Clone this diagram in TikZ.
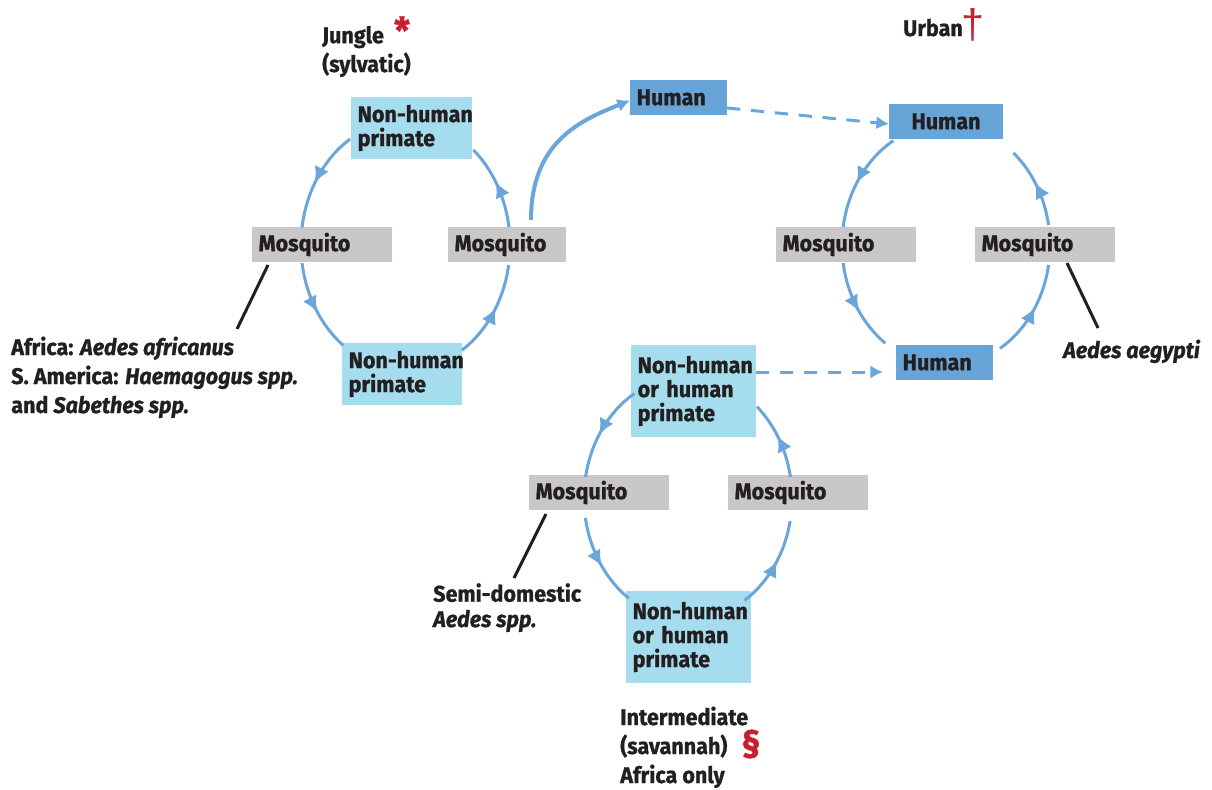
\documentclass[tikz,border=0pt]{standalone}
\usepackage{fontspec}
\setmainfont{Fira Sans}[FakeStretch=0.95,
  BoldFeatures={FakeBold=1.0}, BoldItalicFeatures={FakeBold=1.0}]
\newfontfamily\symfont{Liberation Sans}
\usetikzlibrary{arrows.meta,decorations.markings,calc}

\definecolor{ink}{HTML}{231F20}
\definecolor{primatefill}{HTML}{A6DDEE}
\definecolor{humanfill}{HTML}{67A5D8}
\definecolor{mosqfill}{HTML}{C9C7C8}
\definecolor{linkblue}{HTML}{6AA6DA}
\definecolor{mark}{HTML}{C9202F}

\tikzset{
  flowtip/.tip={Latex[length=9.5pt,width=10pt]},
  midtip/.tip={Latex[length=12pt,width=11.5pt]},
  txt/.style={font=\bfseries\fontsize{17}{18}\selectfont, text=ink},
  box/.style={txt, anchor=north west, inner xsep=5pt, inner ysep=0pt,
    outer sep=0pt, align=left},
  mosq/.style={box, fill=mosqfill, text width=#1, minimum height=26.25pt},
  mosq/.default=95pt,
  prim/.style 2 args={box, fill=primatefill, text width=#1, minimum height=#2},
  human/.style={box, fill=humanfill, text width=#1, minimum height=26.25pt},
  label/.style={txt, anchor=base west, align=left, inner sep=0pt},
  cyc/.style={draw=linkblue, color=linkblue, line width=2.25pt,
    postaction={decorate},
    decoration={markings, mark=at position 0.55 with {\arrow{midtip}}}},
  link/.style={draw=linkblue, color=linkblue, line width=2.25pt, -{flowtip}},
  dashlink/.style={link, dash pattern=on 10pt off 8pt},
  leader/.style={draw=ink, line width=2.25pt},
}

\begin{document}
\begin{tikzpicture}[x=0.75pt,y=-0.75pt]
\useasboundingbox (0,0) rectangle (1212,789);

% ---- jungle (sylvatic) cycle ----
\node[prim={80.75pt}{46.5pt}] (jtop) at (351,97) {\mbox{Non-human}\\primate};
\node[mosq] (jml) at (252,227) {Mosquito};
\node[mosq=78.5pt] (jmr) at (448,227) {Mosquito};
\node[prim={80pt}{46.5pt}] (jbot) at (342,343) {\mbox{Non-human}\\primate};

% ---- human host reached from the jungle ----
\node[human=62.75pt] (hmid) at (630,80) {Human};

% ---- urban cycle ----
\node[human=75.5pt, align=center] (utop) at (889,104) {Human};
\node[mosq] (uml) at (776,227) {Mosquito};
\node[mosq] (umr) at (975,227) {Mosquito};
\node[human=62.75pt] (ubot) at (896,345) {Human};

% ---- intermediate (savannah) cycle ----
\node[prim={83.75pt}{69pt}] (itop) at (631,345) {\mbox{Non-human}\\or human\\primate};
\node[mosq] (iml) at (529,475) {Mosquito};
\node[mosq] (imr) at (728,475) {Mosquito};
\node[prim={83.75pt}{69pt}] (ibot) at (626,591) {\mbox{Non-human}\\or human\\primate};

% ---- cycle arcs (elliptical, drawn counter-clockwise) ----
\coordinate (jc) at (405.5,245);
\draw[cyc] (jc) ++(238:104.5 and 125) arc[start angle=238, end angle=188, x radius=104.5, y radius=125];
\draw[cyc] (jc) ++(171.7:104.5 and 125) arc[start angle=171.7, end angle=126.5, x radius=104.5, y radius=125];
\draw[cyc] (jc) ++(57.3:104.5 and 125) arc[start angle=57.3, end angle=9.2, x radius=104.5, y radius=125];
\draw[cyc] (jc) ++(-8.3:104.5 and 125) arc[start angle=-8.3, end angle=-49.5, x radius=104.5, y radius=125];

\coordinate (uc) at (946,245);
\draw[cyc] (uc) ++(239.6:104 and 121) arc[start angle=239.6, end angle=188.6, x radius=104, y radius=121];
\draw[cyc] (uc) ++(171.4:104 and 121) arc[start angle=171.4, end angle=125.7, x radius=104, y radius=121];
\draw[cyc] (uc) ++(58.7:104 and 121) arc[start angle=58.7, end angle=9.5, x radius=104, y radius=121];
\draw[cyc] (uc) ++(-9.5:104 and 121) arc[start angle=-9.5, end angle=-49.6, x radius=104, y radius=121];

\coordinate (ic) at (688,498);
\draw[cyc] (ic) ++(238.9:104 and 122) arc[start angle=238.9, end angle=189.9, x radius=104, y radius=122];
\draw[cyc] (ic) ++(170.6:104 and 122) arc[start angle=170.6, end angle=124.7, x radius=104, y radius=122];
\draw[cyc] (ic) ++(57.1:104 and 122) arc[start angle=57.1, end angle=10.9, x radius=104, y radius=122];
\draw[cyc] (ic) ++(-9.9:104 and 122) arc[start angle=-9.9, end angle=-48.5, x radius=104, y radius=122];

% ---- links between cycles ----
\draw[link, line width=3pt] ($(jmr.north west)+(83,-7)$) .. controls +(0,-78) and +(-50,20) .. ($(hmid.west)+(0,3)$);
\draw[dashlink] ($(hmid.east)+(0,10.5)$) -- ($(utop.west)+(0,2.5)$);
\draw[dashlink] ($(itop.east)+(0,-19)$) -- ($(ubot.west)+(-13,9.5)$);

% ---- cycle titles (anchored at the baseline of their last line) ----
\node[label] (jungle) at (322,72) {Jungle\\[2.25pt](sylvatic)};
\node[anchor=north, inner sep=0pt, text=mark, font=\bfseries\fontsize{28}{28}\selectfont] (jstar) at (402,16) {*};
\node[label] (urban) at (903,36) {Urban};
\node[anchor=north, inner sep=0pt, text=mark, font=\symfont\fontsize{31}{31}\selectfont] (udag) at (973,8) {†};
\node[label] (inter) at (620,783) {Intermediate\\[3.75pt](savannah)\\[3.75pt]Africa only};
\node[inner sep=0pt, text=mark, font=\bfseries\fontsize{28}{28}\selectfont] (isec) at (751,744) {§};

% ---- vector notes ----
\node[label] (jvec) at (11,413) {Africa: \textit{Aedes africanus}\\[3.75pt]S. America: \textit{Haemagogus spp.}\\[3.75pt]and \textit{Sabethes spp.}};
\node[label] (uvec) at (1063,358) {\textit{Aedes aegypti}};
\node[label] (ivec) at (433,627) {Semi-domestic\\[1pt]\textit{Aedes spp.}};

\draw[leader] ($(jml.south west)+(16,3)$) -- ($(jvec.base west)+(226,-84)$);
\draw[leader] ($(umr.south west)+(92,1)$) -- ($(uvec.base west)+(35,-30)$);
\draw[leader] ($(iml.south west)+(17,4)$) -- ($(ivec.base west)+(81,-49)$);
\end{tikzpicture}
\end{document}
